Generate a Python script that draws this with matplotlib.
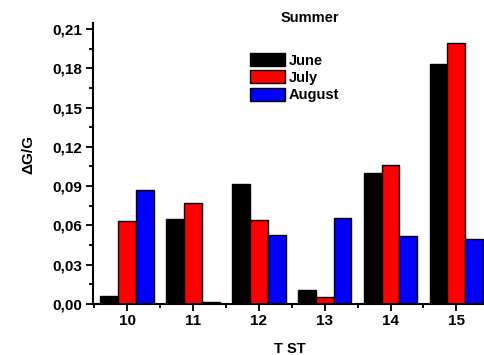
import numpy as np
import matplotlib.pyplot as plt
from matplotlib.ticker import FuncFormatter, MultipleLocator

plt.rcParams['font.family'] = ['Liberation Sans', 'DejaVu Sans']
plt.rcParams['font.weight'] = 'bold'

categories = [10, 11, 12, 13, 14, 15]
june = [0.0058, 0.0649, 0.0913, 0.0104, 0.0997, 0.1833]
july = [0.0634, 0.0771, 0.0644, 0.0056, 0.1064, 0.1990]
august = [0.0867, 0.0012, 0.0529, 0.0659, 0.0519, 0.0496]

fig = plt.figure(figsize=(4.84, 3.55), dpi=100)
ax = fig.add_axes([0.192, 0.144, 0.808, 0.792])

x = np.array(categories)
w = 0.27
ax.bar(x - w, june, w, color='black', edgecolor='black', linewidth=1, label='June')
ax.bar(x, july, w, color='#ff0000', edgecolor='black', linewidth=1, label='July')
ax.bar(x + w, august, w, color='#0000ff', edgecolor='black', linewidth=1, label='August')

ax.set_xlim(9.48, 15.42)
ax.set_ylim(0, 0.2148)
ax.set_xticks(categories)
ax.xaxis.set_minor_locator(MultipleLocator(0.5))
ax.yaxis.set_major_locator(MultipleLocator(0.03))
ax.yaxis.set_minor_locator(MultipleLocator(0.015))
ax.yaxis.set_major_formatter(FuncFormatter(lambda v, p: f"{v:.2f}".replace('.', ',')))

for s in ['top', 'right']:
    ax.spines[s].set_visible(False)
for s in ['left', 'bottom']:
    ax.spines[s].set_linewidth(1.5)
ax.tick_params(which='major', direction='out', length=5, width=1.3, labelsize=11)
ax.tick_params(axis='y', which='major', pad=3)
ax.tick_params(axis='x', which='major', pad=2)
ax.tick_params(which='minor', direction='out', length=3, width=1.3)

ax.set_ylabel('ΔG/G', fontsize=11, fontweight='bold')
ax.set_xlabel('T ST', fontsize=10.5, fontweight='bold')
ax.yaxis.set_label_coords(-0.146, 0.53)
ax.xaxis.set_label_coords(0.504, -0.135)
fig.text(0.64, 0.949, 'Summer', fontsize=10.5, fontweight='bold', ha='center', va='center')

ax.legend(loc='upper left', bbox_to_anchor=(250 / 484, 1 - 53 / 355),
          bbox_transform=fig.transFigure, frameon=False, fontsize=10.5,
          handlelength=2.4, handleheight=1.0, handletextpad=0.25,
          labelspacing=0.2, borderpad=0, borderaxespad=0)

fig.savefig('out.png', dpi=100)
